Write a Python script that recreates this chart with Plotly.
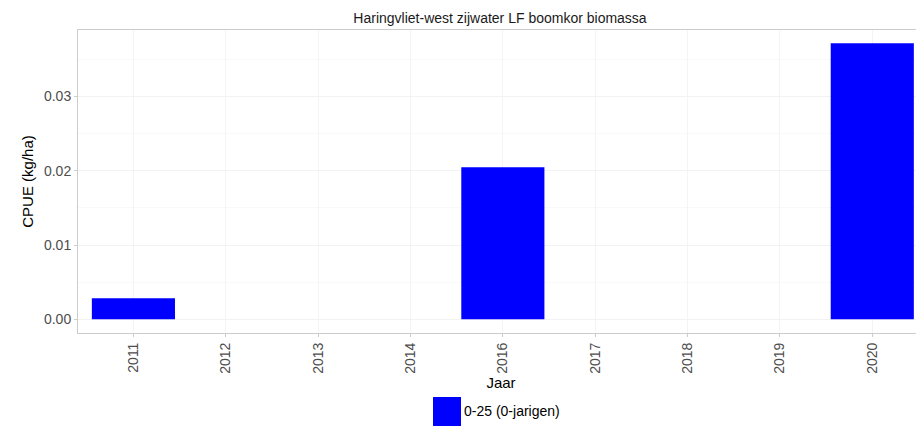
import plotly.graph_objects as go

years = ["2011", "2012", "2013", "2014", "2016", "2017", "2018", "2019", "2020"]
cpue = [0.00283, 0.0, 0.0, 0.0, 0.02046, 0.0, 0.0, 0.0, 0.03715]
series_name = "0-25 (0-jarigen)"
title = "Haringvliet-west zijwater LF boomkor biomassa"
y_ticks = [0.00, 0.01, 0.02, 0.03]
y_tick_text = ["0.00", "0.01", "0.02", "0.03"]

BLUE = "#0000FF"
FONT = "Liberation Sans, Arial, sans-serif"

# page has 8px body margin; figure sized to fill the rest of the window
W, H = 916, 419
L, T, B = 70, 22, 94
PW, PH = W - L, H - T - B


def px(sx):
    return (sx - 78) / PW


def py(sy):
    return (333 - sy) / PH


fig = go.Figure()
fig.add_trace(go.Bar(
    x=list(range(len(years))), y=cpue, name=series_name,
    marker=dict(color=BLUE, line=dict(width=0)),
    width=0.9, showlegend=False,
))

fig.update_layout(
    width=W, height=H,
    margin=dict(l=L, r=0, t=T, b=B),
    paper_bgcolor="white", plot_bgcolor="white",
    font=dict(family=FONT, color="#4d4d4d", size=14),
    title=dict(text=title, x=492 / W, xanchor="center",
               y=1 - 10 / H, yanchor="middle",
               font=dict(size=14, color="#1a1a1a", family=FONT)),
)

fig.update_xaxes(
    range=[-0.6, len(years) - 1 + 0.56],
    tickmode="array", tickvals=list(range(len(years))), ticktext=years,
    tickangle=-90, tickfont=dict(size=14, color="#4d4d4d"),
    ticks="outside", ticklen=3, tickcolor="#cccccc",
    showgrid=True, gridcolor="#f4f4f4", gridwidth=1,
    showline=True, linecolor="#cccccc", linewidth=1, mirror=True,
    zeroline=False,
    title=dict(text="Jaar", font=dict(size=15, color="#000000"), standoff=4),
)
fig.update_yaxes(
    range=[-0.00185, 0.03895],
    tickmode="array", tickvals=y_ticks, ticktext=y_tick_text,
    tickfont=dict(size=14, color="#4d4d4d"),
    ticks="outside", ticklen=3, tickcolor="#cccccc",
    showgrid=True, gridcolor="#f2f2f2", gridwidth=1,
    minor=dict(showgrid=True, gridcolor="#f9f9f9", dtick=0.005, tick0=0.005),
    showline=True, linecolor="#cccccc", linewidth=1, mirror=True,
    zeroline=False,
    title=dict(text="CPUE (kg/ha)", font=dict(size=15, color="#000000"), standoff=6),
)

# legend drawn manually (large key like the reference)
fig.add_shape(type="rect", xref="paper", yref="paper",
              x0=px(433), x1=px(461), y0=py(426), y1=py(397),
              fillcolor=BLUE, line=dict(width=0))
fig.add_annotation(xref="paper", yref="paper",
                   x=px(462), y=py(411),
                   xanchor="left", yanchor="middle", showarrow=False,
                   text=series_name, font=dict(size=14, color="#000000"))

fig.write_html("out.html")
